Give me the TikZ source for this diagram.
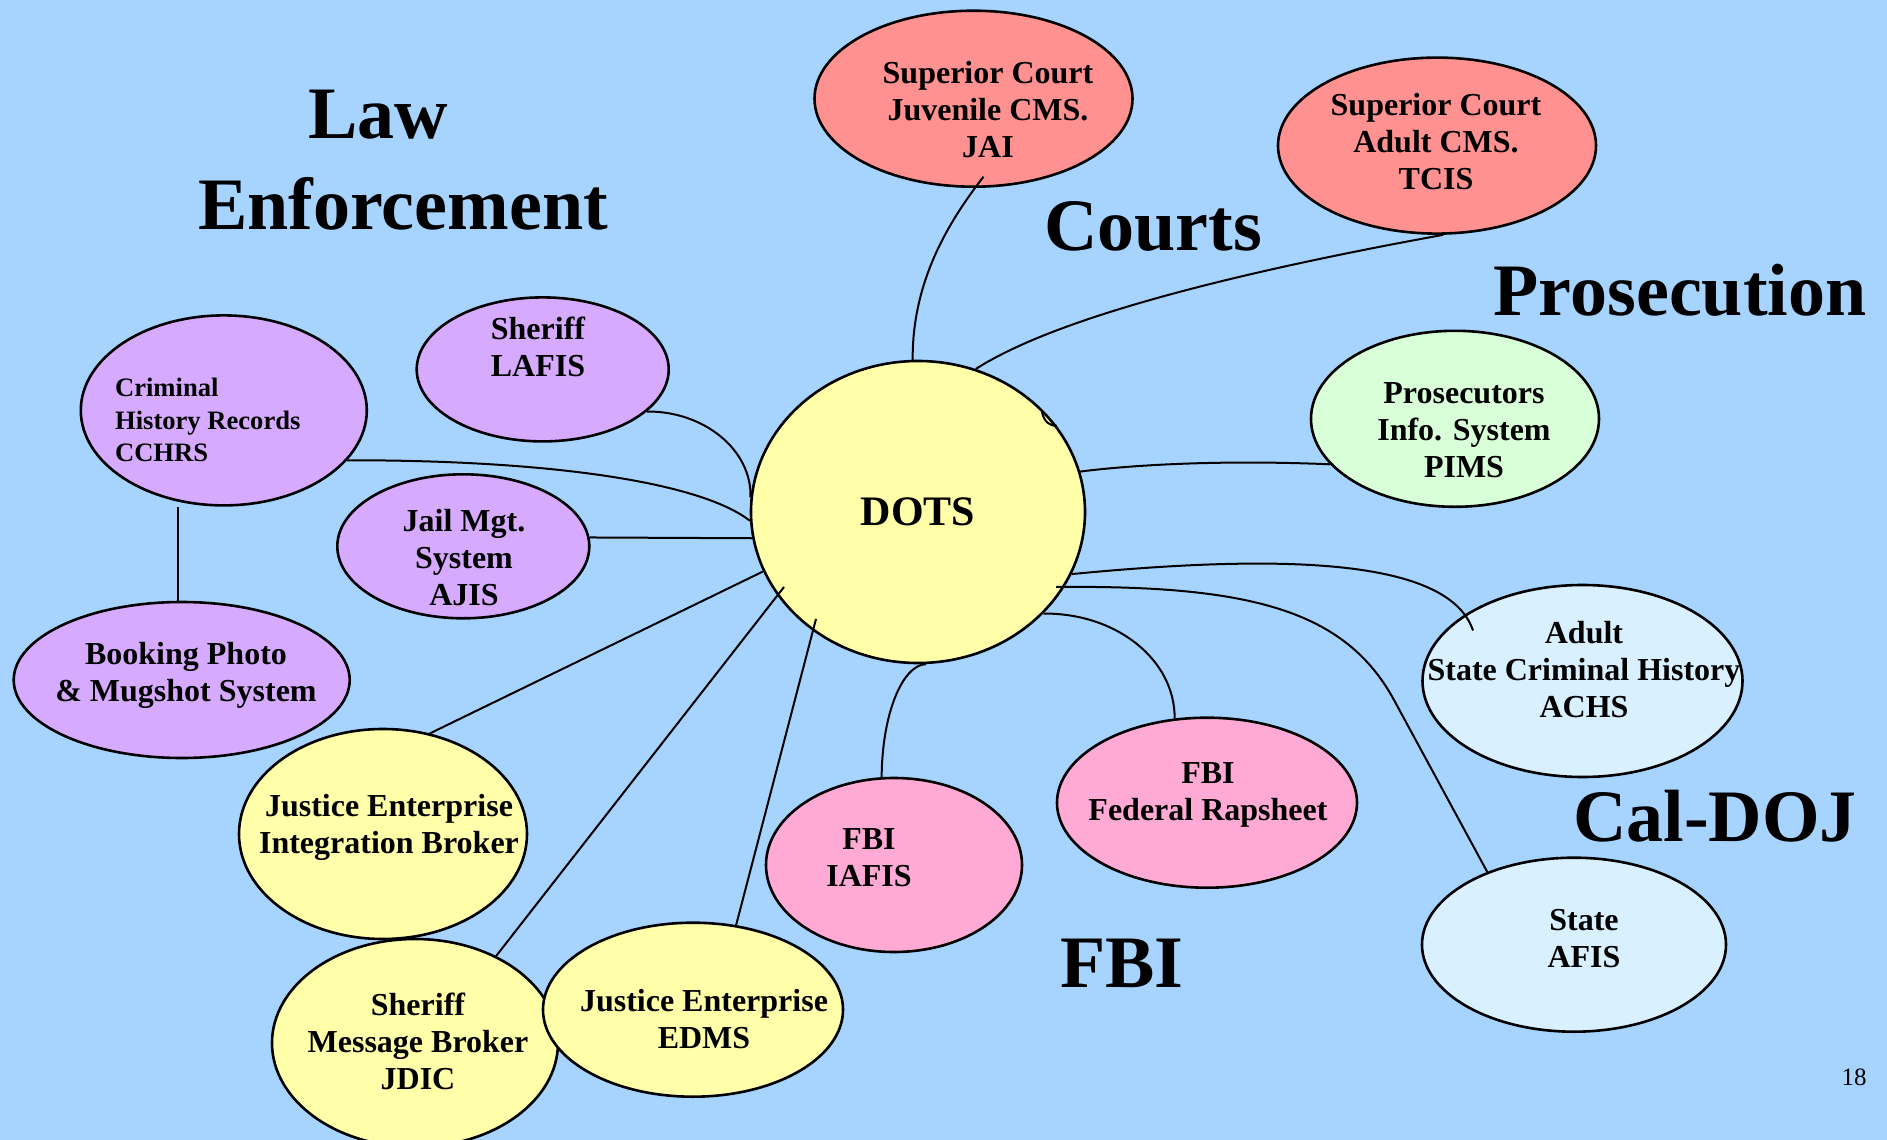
\documentclass[tikz,border=0pt]{standalone}
\usepackage{fontspec}
\setmainfont{Liberation Serif}
\usetikzlibrary{shapes.geometric}

\definecolor{bgblue}{RGB}{166,212,255}
\definecolor{courtred}{RGB}{255,145,145}
\definecolor{lawpurple}{RGB}{214,170,255}
\definecolor{sysyellow}{RGB}{255,255,170}
\definecolor{prosgreen}{RGB}{216,255,216}
\definecolor{dojcyan}{RGB}{216,240,255}
\definecolor{fbipink}{RGB}{255,170,212}

\tikzset{
	sys/.style={ellipse, draw, line width=1.3pt, inner sep=0pt},
	lbl/.style={font=\bfseries\fontsize{16}{18.5}\selectfont, align=center},
	grp/.style={font=\bfseries\fontsize{37}{44}\selectfont, anchor=base},
	link/.style={line width=1pt},
}

\begin{document}
\begin{tikzpicture}[x=0.5pt, y=-0.5pt]
	\fill[bgblue] (0,0) rectangle (1887,1140);
	\useasboundingbox (0,0) rectangle (1887,1140);

	% group titles
	\node (lawtitle) [grp] at (378,138) {Law};
	\node (enftitle) [grp] at (403,229) {Enforcement};
	\node (courttitle) [grp] at (1153,250) {Courts};
	\node (prostitle) [grp] at (1680,315) {Prosecution};
	\node (dojtitle) [grp] at (1715,841) {Cal-DOJ};
	\node (fbititle) [grp] at (1122,987) {FBI};
	\node (pageno) [font=\fontsize{12.5}{15}\selectfont] at (1854,1077) {18};

	% systems
	\node (dots) [sys, fill=sysyellow, minimum width=167pt, minimum height=151pt, font=\bfseries\fontsize{21}{25}\selectfont] at (918,512) {DOTS};

	\node (jai) [sys, fill=courtred, minimum width=159pt, minimum height=88pt] at (973.5,98.7) {};
	\node (jai-t) [lbl] at (988,110) {Superior Court\\Juvenile CMS.\\JAI};
	\node (tcis) [sys, fill=courtred, minimum width=159pt, minimum height=88pt] at (1437,145.6) {};
	\node (tcis-t) [lbl] at (1436,142) {Superior Court\\Adult CMS.\\TCIS};

	\node (pims) [sys, fill=prosgreen, minimum width=144pt, minimum height=88pt] at (1455,418.8) {};
	\node (pims-t) [lbl] at (1464,430) {Prosecutors\\Info. System\\PIMS};

	\node (achs) [sys, fill=dojcyan, minimum width=160pt, minimum height=96pt] at (1582.5,681) {};
	\node (achs-t) [lbl] at (1584,670) {Adult\\State Criminal History\\ACHS};
	\node (afis) [sys, fill=dojcyan, minimum width=152pt, minimum height=87pt] at (1574,944.7) {};
	\node (afis-t) [lbl] at (1584,939) {State\\AFIS};

	\node (rap) [sys, fill=fbipink, minimum width=150pt, minimum height=85pt] at (1207,802.7) {};
	\node (rap-t) [lbl] at (1208,795) {FBI\\Federal Rapsheet};
	\node (iafis) [sys, fill=fbipink, minimum width=128pt, minimum height=87pt] at (894,865) {};
	\node (iafis-t) [lbl] at (869,858) {FBI\\IAFIS};

	\node (jeib) [sys, fill=sysyellow, minimum width=144pt, minimum height=105pt] at (383,834) {};
	\node (jeib-t) [lbl] at (389,827) {Justice Enterprise\\Integration Broker};
	\node (jdic) [sys, fill=sysyellow, minimum width=143pt, minimum height=104pt] at (415,1043) {};
	\node (jdic-t) [lbl] at (418,1041) {Sheriff\\Message Broker\\JDIC};
	\node (edms) [sys, fill=sysyellow, minimum width=150pt, minimum height=87pt] at (693,1009.7) {};
	\node (edms-t) [lbl] at (704,1019) {Justice Enterprise\\EDMS};

	\node (cchrs) [sys, fill=lawpurple, minimum width=143pt, minimum height=95pt] at (223.8,410.4) {};
	\node (cchrs-t) [lbl, align=left, anchor=west, font=\bfseries\fontsize{13.3}{16.2}\selectfont] at (108,420) {Criminal\\History Records\\CCHRS};
	\node (lafis) [sys, fill=lawpurple, minimum width=126pt, minimum height=72pt] at (542.7,369.4) {};
	\node (lafis-t) [lbl] at (538,347) {Sheriff\\LAFIS};
	\node (ajis) [sys, fill=lawpurple, minimum width=126pt, minimum height=72pt] at (463.3,546.3) {};
	\node (ajis-t) [lbl] at (464,558) {Jail Mgt.\\System\\AJIS};
	\node (book) [sys, fill=lawpurple, minimum width=168pt, minimum height=78pt] at (181.7,680) {};
	\node (book-t) [lbl] at (186,675) {Booking Photo\\\& Mugshot System};

	% links
	\draw [link] ([shift={(10,78)}]jai.center) .. controls (950,220) and (912,280) .. (dots.92);
	\draw [link] (tcis.-86) .. controls (1250,270) and (1060,315) .. (dots.68);
	\draw [link] (1042,412) .. controls (1044,422) and (1050,426) .. (1057,426);
	\draw [link] (pims.200) .. controls (1230,460) and (1140,464) .. (dots.14);
	\draw [link] (dots.-22) .. controls (1300,552) and (1450,562) .. ([shift={(-109.5,-50.5)}]achs.center);
	\draw [link] ([shift={(138,75)}]dots.center) .. controls (1250,585) and (1345,610) .. (1394,700) -- (afis.140);
	\draw [link] (dots.-39) .. controls (1117,613) and (1175,660) .. (rap.111);
	\draw [link] (dots.-87) .. controls (902,665) and (882,715) .. (iafis.98);
	\draw [link] (edms.63) -- ([shift={(-102,107)}]dots.center);
	\draw [link] (jdic.47) -- ([shift={(-134,75)}]dots.center);
	\draw [link] (jeib.65) -- (dots.201);
	\draw [link] (ajis.4) -- (dots.189);
	\draw [link] (cchrs.-22) .. controls (550,460) and (700,482) .. (dots.183);
	\draw [link] (lafis.-22) .. controls (704,411) and (752,450) .. (dots.175);
	\draw [link] (book.93) -- (book.93 |- cchrs.south);
\end{tikzpicture}
\end{document}
